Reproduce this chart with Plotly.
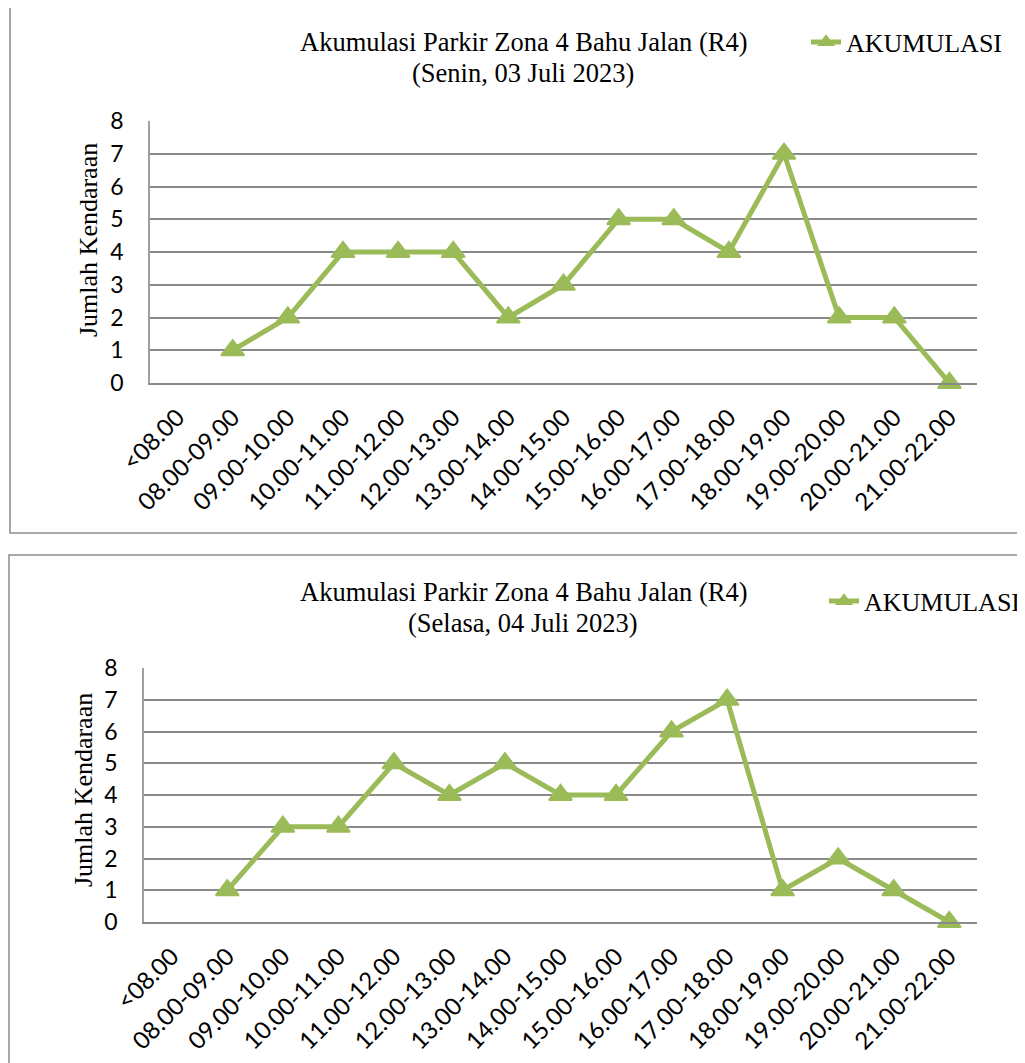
import plotly.graph_objects as go

# the page puts the figure 8px in from the top-left corner
OFF = 8
W, H = 1025 - OFF, 1063 - OFF

categories = [
    '<08.00', '08.00-09.00', '09.00-10.00', '10.00-11.00', '11.00-12.00',
    '12.00-13.00', '13.00-14.00', '14.00-15.00', '15.00-16.00', '16.00-17.00',
    '17.00-18.00', '18.00-19.00', '19.00-20.00', '20.00-21.00', '21.00-22.00',
]
senin_values = [None, 1, 2, 4, 4, 4, 2, 3, 5, 5, 4, 7, 2, 2, 0]
selasa_values = [None, 1, 3, 3, 5, 4, 5, 4, 4, 6, 7, 1, 2, 1, 0]
y_ticks = [0, 1, 2, 3, 4, 5, 6, 7, 8]

title_main = 'Akumulasi Parkir Zona 4 Bahu Jalan (R4)'
subtitle_senin = '(Senin, 03 Juli 2023)'
subtitle_selasa = '(Selasa, 04 Juli 2023)'
series_name = 'AKUMULASI'
y_title = 'Jumlah Kendaraan'

GREEN = '#9BBB59'
GRID = '#8a8a8a'
SERIF = 'Liberation Serif, Times New Roman, serif'
SANS = 'Lato, Calibri, sans-serif'


def fx(px):
    return (px - OFF) / W


def fy(px):
    return 1 - (px - OFF) / H


fig = go.Figure()

# one trace per day, each on its own pair of axes and with its own legend
for i, (vals, leg) in enumerate([(senin_values, 'legend'), (selasa_values, 'legend2')]):
    suffix = '' if i == 0 else '2'
    fig.add_trace(go.Scatter(
        x=categories,
        y=vals,
        mode='lines+markers',
        name=series_name,
        line=dict(color=GREEN, width=5),
        marker=dict(symbol='triangle-up', size=20, color=GREEN,
                    line=dict(color=GREEN, width=2)),
        cliponaxis=False,
        connectgaps=False,
        xaxis='x' + suffix,
        yaxis='y' + suffix,
        legend=leg,
        showlegend=True,
    ))

axis_x = dict(
    type='category',
    categoryorder='array',
    categoryarray=categories,
    range=[-0.5, 14.5],
    tickangle=-45,
    tickfont=dict(family=SANS, size=24, color='black'),
    showgrid=False,
    showline=True,
    linecolor=GRID,
    linewidth=1.5,
    ticks='',
    ticklabelstandoff=9,
    automargin=False,
    fixedrange=True,
)
axis_y = dict(
    range=[0, 8],
    tickvals=y_ticks,
    tickfont=dict(family=SANS, size=23, color='black'),
    showgrid=True,
    gridcolor=GRID,
    gridwidth=1.5,
    zeroline=False,
    showline=True,
    linecolor='#a0a0a0',
    linewidth=1.5,
    ticks='',
    ticklabelstandoff=20,
    automargin=False,
    fixedrange=True,
)

legend_style = dict(
    font=dict(family=SERIF, size=26, color='black'),
    bgcolor='rgba(0,0,0,0)',
    xanchor='right',
    yanchor='middle',
    itemsizing='constant',
)

fig.update_layout(
    width=W,
    height=H,
    margin=dict(l=0, r=0, t=0, b=0, autoexpand=False),
    paper_bgcolor='white',
    plot_bgcolor='white',
    xaxis=dict(axis_x, domain=[fx(150), fx(977)], anchor='y'),
    yaxis=dict(axis_y, domain=[fy(383), fy(121)], anchor='x'),
    xaxis2=dict(axis_x, domain=[fx(144), fx(977)], anchor='y2'),
    yaxis2=dict(axis_y, domain=[fy(922), fy(668)], anchor='x2'),
    legend=dict(legend_style, x=fx(1007), y=fy(42)),
    legend2=dict(legend_style, x=1.0, y=fy(601)),
    shapes=[
        dict(type='rect', xref='paper', yref='paper',
             x0=fx(10), x1=fx(1040), y0=fy(533), y1=fy(4.5),
             line=dict(color='#8c8c8c', width=1.5)),
        dict(type='rect', xref='paper', yref='paper',
             x0=fx(9), x1=fx(1040), y0=fy(1080), y1=fy(555),
             line=dict(color='#8c8c8c', width=1.5)),
    ],
)

for top, sub, ytitle_pos in [(42, subtitle_senin, (88, 240)), (592, subtitle_selasa, (83, 790))]:
    fig.add_annotation(
        text=title_main, xref='paper', yref='paper',
        x=fx(523), y=fy(top), xanchor='center', yanchor='middle',
        showarrow=False, font=dict(family=SERIF, size=26.5, color='black'),
    )
    fig.add_annotation(
        text=sub, xref='paper', yref='paper',
        x=fx(523), y=fy(top + 31), xanchor='center', yanchor='middle',
        showarrow=False, font=dict(family=SERIF, size=26.5, color='black'),
    )
    fig.add_annotation(
        text=y_title, xref='paper', yref='paper', textangle=-90,
        x=fx(ytitle_pos[0]), y=fy(ytitle_pos[1]), xanchor='center', yanchor='middle',
        showarrow=False, font=dict(family=SERIF, size=26, color='black'),
    )

fig.write_html('out.html')
